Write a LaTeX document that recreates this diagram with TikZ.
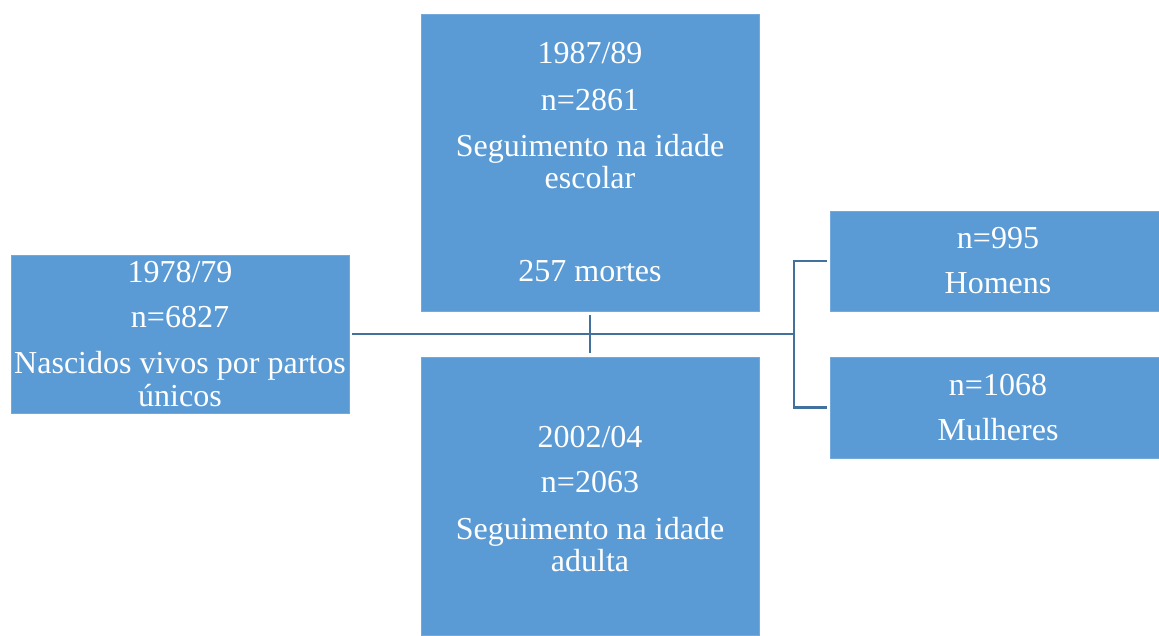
\documentclass[tikz,border=0pt]{standalone}
\usepackage{fontspec}
\setmainfont{Liberation Serif}
\definecolor{boxblue}{HTML}{5B9BD5}
\definecolor{linkblue}{HTML}{41719C}
\begin{document}
\begin{tikzpicture}[x=0.75pt,y=-0.75pt,
  panel/.style={fill=boxblue, draw=boxblue!85!white, line width=0.6pt,
                inner sep=0pt, outer sep=0pt},
  lbl/.style={text=white, font=\fontsize{24}{28}\selectfont, anchor=base,
              inner sep=0pt},
  link/.style={draw=linkblue, line width=2.1pt}]
\useasboundingbox (0,0) rectangle (1159,635);

% boxes
\node[panel, minimum width=253.5pt, minimum height=118.5pt]  (birth)  at (180,334)   {};
\node[panel, minimum width=253.5pt, minimum height=222.75pt] (school) at (590,162.5) {};
\node[panel, minimum width=253.5pt, minimum height=208.5pt]  (adult)  at (590,496)   {};
\node[panel, minimum width=252pt,   minimum height=75pt]     (men)    at (998,261)   {};
\node[panel, minimum width=252pt,   minimum height=75.75pt]  (women)  at (998,407.5) {};

% connectors
\coordinate (junc) at (794,334);
\draw[link, shorten <=2.25pt] (birth.east) -- (junc);
\draw[link, shorten <=3pt, shorten >=3pt] (school.south) -- (adult.north);
\draw[link, shorten <=2.25pt, shorten >=2.25pt] (men.west) -| (junc) |- (women.west);

% texts of the birth cohort
\node[lbl] (b1) at (180,282) {1978/79};
\node[lbl] (b2) at (180,327) {n=6827};
\node[lbl] (b3) at (180,373) {Nascidos vivos por partos};
\node[lbl] (b4) at (180,406) {únicos};

% school-age follow-up
\node[lbl] (s1) at (590,64)  {1987/89};
\node[lbl] (s2) at (590,110) {n=2861};
\node[lbl] (s3) at (590,156) {Seguimento na idade};
\node[lbl] (s4) at (590,188) {escolar};
\node[lbl] (s5) at (590,281) {257 mortes};

% adult follow-up
\node[lbl] (a1) at (590,447) {2002/04};
\node[lbl] (a2) at (590,492) {n=2063};
\node[lbl] (a3) at (590,539) {Seguimento na idade};
\node[lbl] (a4) at (590,571) {adulta};

% by sex
\node[lbl] (m1) at (998,248) {n=995};
\node[lbl] (m2) at (998,293) {Homens};
\node[lbl] (w1) at (998,395) {n=1068};
\node[lbl] (w2) at (998,440) {Mulheres};
\end{tikzpicture}
\end{document}
